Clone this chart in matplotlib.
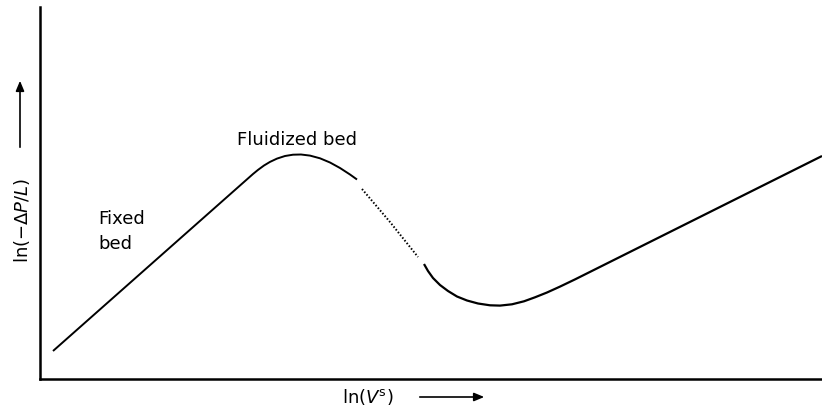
"""Pressure drop vs. superficial velocity sketch for a fluidized bed."""
import matplotlib.pyplot as plt

# ln(V^s) / ln(-dP/L) in arbitrary units
fixed_x = [0.13, 2.13, 2.18, 2.24, 2.30, 2.37, 2.45, 2.53, 2.61, 2.70, 2.80, 2.90, 3.00, 3.10, 3.17]
fixed_y = [0.28, 2.05, 2.091, 2.135, 2.171, 2.204, 2.23, 2.243, 2.245, 2.234, 2.207, 2.165, 2.11, 2.045, 1.995]

transition_x = [3.22, 3.50, 3.78]
transition_y = [1.90, 1.57, 1.22]

transport_x = [3.84, 3.88, 3.93, 4.00, 4.08, 4.17, 4.27, 4.38, 4.50, 4.60, 4.72,
               4.84, 4.95, 5.07, 5.20, 5.35, 7.82]
transport_y = [1.15, 1.08, 1.01, 0.94, 0.88, 0.825, 0.785, 0.755, 0.737, 0.734, 0.747,
               0.777, 0.817, 0.865, 0.924, 0.996, 2.23]

W, H = 822, 411

fig = plt.figure(figsize=(W / 100, H / 100), dpi=100)
ax = fig.add_axes([40 / W, (H - 379) / H, (W - 40) / W, (379 - 7) / H])

ax.plot(fixed_x, fixed_y, color="black", lw=1.4, solid_capstyle="butt", solid_joinstyle="round")
ax.plot(transition_x, transition_y, color="black", lw=1.4, linestyle=(0, (0.8, 1.0)))
ax.plot(transport_x, transport_y, color="black", lw=1.6, solid_capstyle="butt", solid_joinstyle="round")

ax.set_xlim(0, 7.82)
ax.set_ylim(0, 3.72)
ax.set_xticks([])
ax.set_yticks([])
for side in ("top", "right"):
    ax.spines[side].set_visible(False)
for side in ("left", "bottom"):
    ax.spines[side].set_linewidth(1.8)

ax.text(0.58, 1.555, "Fixed", fontsize=13, ha="left", va="baseline")
ax.text(0.58, 1.30, "bed", fontsize=13, ha="left", va="baseline")
ax.text(1.97, 2.34, "Fluidized bed", fontsize=13, ha="left", va="baseline")

# axis labels with direction arrows
fig.text(342 / W, (H - 403) / H, r"ln($V^{\mathrm{s}}$)", fontsize=13, ha="left", va="baseline")
fig.text(22 / W, (H - 220) / H, r"ln(−Δ$P$/$L$)", fontsize=13, rotation=90, ha="center", va="center")

arrow = dict(arrowstyle="-|>,head_length=0.6,head_width=0.25", color="black", lw=1.2)
ax.annotate("", xy=(487 / W, (H - 397) / H), xytext=(417 / W, (H - 397) / H),
            xycoords="figure fraction", textcoords="figure fraction", arrowprops=arrow)
ax.annotate("", xy=(20 / W, (H - 78) / H), xytext=(20 / W, (H - 150) / H),
            xycoords="figure fraction", textcoords="figure fraction", arrowprops=arrow)

fig.savefig("out.png", dpi=100)
